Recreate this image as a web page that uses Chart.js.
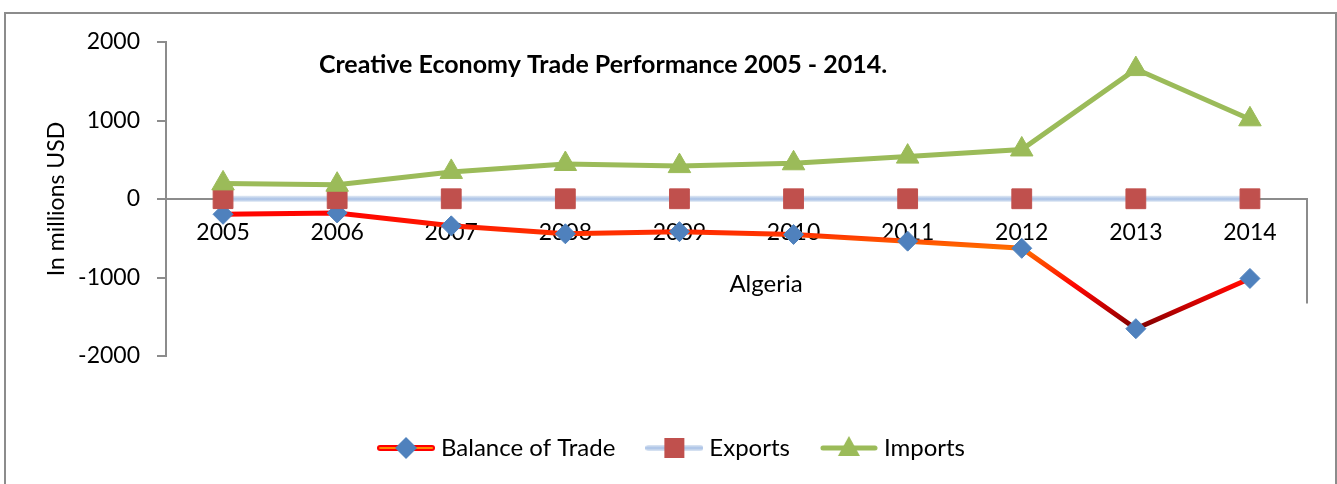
<!DOCTYPE html>
<html>
<head>
<meta charset="utf-8">
<script src="https://cdn.jsdelivr.net/npm/chart.js@4.4.1/dist/chart.umd.min.js"></script>
<style>
  body { margin: 0; background: #fff; }
  #frame {
    position: absolute; left: 4px; top: 12px;
    width: 1329px; height: 470px;
    border: 2px solid #8c8c8c; border-bottom: none;
  }
</style>
</head>
<body>
<div id="frame"><canvas id="tradeChart"></canvas></div>
<script>
// data (millions USD)
const years = ['2005', '2006', '2007', '2008', '2009', '2010', '2011', '2012', '2013', '2014'];
const balanceOfTrade = [-195, -178, -342, -443, -416, -452, -537, -628, -1652, -1012];
const exportsValues = [4, 4, 3, 3, 3, 3, 3, 3, 3, 3];
const importsValues = [199, 182, 345, 446, 419, 455, 540, 631, 1655, 1015];
const yTicks = [-2000, -1000, 0, 1000, 2000];

const FONT = 'Lato, "Open Sans", sans-serif';
const GRAY = '#8c8c8c';

// gradient of the balance line, going down the value axis
function balanceGradient(chart) {
  const area = chart.chartArea;
  if (!area) return '#ff0000';
  const y = chart.scales.y;
  const top = y.getPixelForValue(-150), bottom = y.getPixelForValue(-1660);
  const g = chart.ctx.createLinearGradient(0, top, 0, bottom);
  const stop = (v, c) => g.addColorStop((y.getPixelForValue(v) - top) / (bottom - top), c);
  stop(-150, '#ff0000');
  stop(-300, '#ff1400');
  stop(-450, '#ff3300');
  stop(-630, '#ff7000');
  stop(-850, '#ff4000');
  stop(-1100, '#ff0500');
  stop(-1400, '#c00000');
  stop(-1660, '#780000');
  return g;
}

function exportsGradient(chart) {
  if (!chart.chartArea) return '#b9cde5';
  const y0 = chart.scales.y.getPixelForValue(0);
  const g = chart.ctx.createLinearGradient(0, y0 - 3, 0, y0 + 3);
  g.addColorStop(0, '#dde7f3');
  g.addColorStop(0.5, '#a9c1e6');
  g.addColorStop(1, '#dde7f3');
  return g;
}

// legend icons: line with the marker on it
function legendIcon(kind) {
  const c = document.createElement('canvas');
  c.width = 58; c.height = 28;
  const ctx = c.getContext('2d');
  const cy = 14, cx = 29;
  ctx.lineCap = 'round';
  if (kind === 'balance') {
    ctx.strokeStyle = '#ff0000'; ctx.lineWidth = 6;
    ctx.beginPath(); ctx.moveTo(3, cy); ctx.lineTo(55, cy); ctx.stroke();
    ctx.strokeStyle = '#ff8a00'; ctx.lineWidth = 2;
    ctx.beginPath(); ctx.moveTo(3, cy); ctx.lineTo(55, cy); ctx.stroke();
    ctx.fillStyle = '#4f81bd';
    ctx.beginPath();
    ctx.moveTo(cx, cy - 11); ctx.lineTo(cx + 11, cy); ctx.lineTo(cx, cy + 11); ctx.lineTo(cx - 11, cy);
    ctx.closePath(); ctx.fill();
  } else if (kind === 'exports') {
    const g = ctx.createLinearGradient(0, cy - 3, 0, cy + 3);
    g.addColorStop(0, '#dde7f3'); g.addColorStop(0.5, '#a9c1e6'); g.addColorStop(1, '#dde7f3');
    ctx.strokeStyle = g; ctx.lineWidth = 6;
    ctx.beginPath(); ctx.moveTo(3, cy); ctx.lineTo(55, cy); ctx.stroke();
    ctx.fillStyle = '#c0504d';
    ctx.fillRect(cx - 10, cy - 10, 20, 20);
  } else {
    ctx.strokeStyle = '#9bbb59'; ctx.lineWidth = 5;
    ctx.beginPath(); ctx.moveTo(3, cy); ctx.lineTo(55, cy); ctx.stroke();
    ctx.fillStyle = '#9bbb59';
    ctx.beginPath();
    ctx.moveTo(cx, cy - 12); ctx.lineTo(cx + 11, cy + 8); ctx.lineTo(cx - 11, cy + 8);
    ctx.closePath(); ctx.fill();
  }
  return c;
}

const icons = [legendIcon('balance'), legendIcon('exports'), legendIcon('imports')];

// chart title, axis caption and the stray frame line
const extras = {
  id: 'extras',
  afterDraw(chart) {
    const {ctx, chartArea: a, scales} = chart;
    ctx.save();
    ctx.fillStyle = '#000';
    ctx.textAlign = 'center';
    ctx.textBaseline = 'middle';
    ctx.font = 'bold 25px ' + FONT;
    ctx.fillText('Creative Economy Trade Performance 2005 - 2014.', a.left + 437, a.top + 23);
    ctx.font = '24px ' + FONT;
    ctx.fillText('Algeria', a.left + 600, a.top + 242);
    ctx.strokeStyle = GRAY;
    ctx.lineWidth = 2;
    ctx.beginPath();
    ctx.moveTo(a.right, scales.y.getPixelForValue(0));
    ctx.lineTo(a.right, scales.y.getPixelForValue(-1330));
    ctx.stroke();
    ctx.restore();
  }
};

new Chart(document.getElementById('tradeChart'), {
  type: 'line',
  data: {
    labels: years,
    datasets: [
      {
        label: 'Balance of Trade',
        data: balanceOfTrade,
        borderColor: c => balanceGradient(c.chart),
        borderWidth: 5,
        pointStyle: 'rectRot',
        pointRadius: 10,
        pointHoverRadius: 10,
        pointBackgroundColor: '#4f81bd',
        pointBorderColor: '#4f81bd',
        pointBorderWidth: 1,
        order: 3
      },
      {
        label: 'Exports',
        data: exportsValues,
        borderColor: c => exportsGradient(c.chart),
        borderWidth: 6,
        pointStyle: 'rect',
        pointRadius: 14,
        pointHoverRadius: 14,
        pointBackgroundColor: '#c0504d',
        pointBorderColor: '#c0504d',
        pointBorderWidth: 1,
        order: 2
      },
      {
        label: 'Imports',
        data: importsValues,
        borderColor: '#9bbb59',
        borderWidth: 5,
        pointStyle: 'triangle',
        pointRadius: 13,
        pointHoverRadius: 13,
        pointBackgroundColor: '#9bbb59',
        pointBorderColor: '#9bbb59',
        pointBorderWidth: 1,
        order: 1
      }
    ]
  },
  options: {
    responsive: true,
    maintainAspectRatio: false,
    animation: false,
    layout: { padding: { left: 35, right: 28, top: 28, bottom: 14 } },
    scales: {
      x: {
        position: { y: 0 },
        offset: true,
        grid: { display: false },
        border: { display: true, color: GRAY, width: 2 },
        ticks: {
          color: '#000',
          font: { family: FONT, size: 23 },
          padding: 12,
          maxRotation: 0,
          autoSkip: false
        }
      },
      y: {
        min: -2000,
        max: 2000,
        afterBuildTicks: s => { s.ticks = yTicks.map(v => ({ value: v })); },
        afterFit: s => { s.width = 125; s.paddingTop = 14; s.paddingBottom = 14; },
        grid: { drawOnChartArea: false, drawTicks: true, tickLength: 9, color: GRAY, lineWidth: 2 },
        border: { display: true, color: GRAY, width: 2 },
        ticks: {
          color: '#000',
          font: { family: FONT, size: 23 },
          padding: 17,
          callback: v => String(v)
        },
        title: {
          display: true,
          text: 'In millions USD',
          color: '#000',
          font: { family: FONT, size: 23 },
          padding: { top: 2, bottom: 0 }
        }
      }
    },
    plugins: {
      title: { display: false },
      tooltip: { enabled: false },
      legend: {
        position: 'bottom',
        title: { display: true, text: '', font: { size: 10, lineHeight: 1 }, padding: { top: 34, bottom: 0 } },
        labels: {
          usePointStyle: true,
          pointStyleWidth: 46,
          padding: 36,
          color: '#000',
          font: { family: FONT, size: 24 },
          generateLabels: chart => chart.data.datasets.map((ds, i) => ({
            text: ds.label,
            pointStyle: icons[i],
            fontColor: '#000',
            hidden: false,
            datasetIndex: i,
            lineWidth: 0
          }))
        }
      }
    }
  },
  plugins: [extras]
});
</script>
</body>
</html>
